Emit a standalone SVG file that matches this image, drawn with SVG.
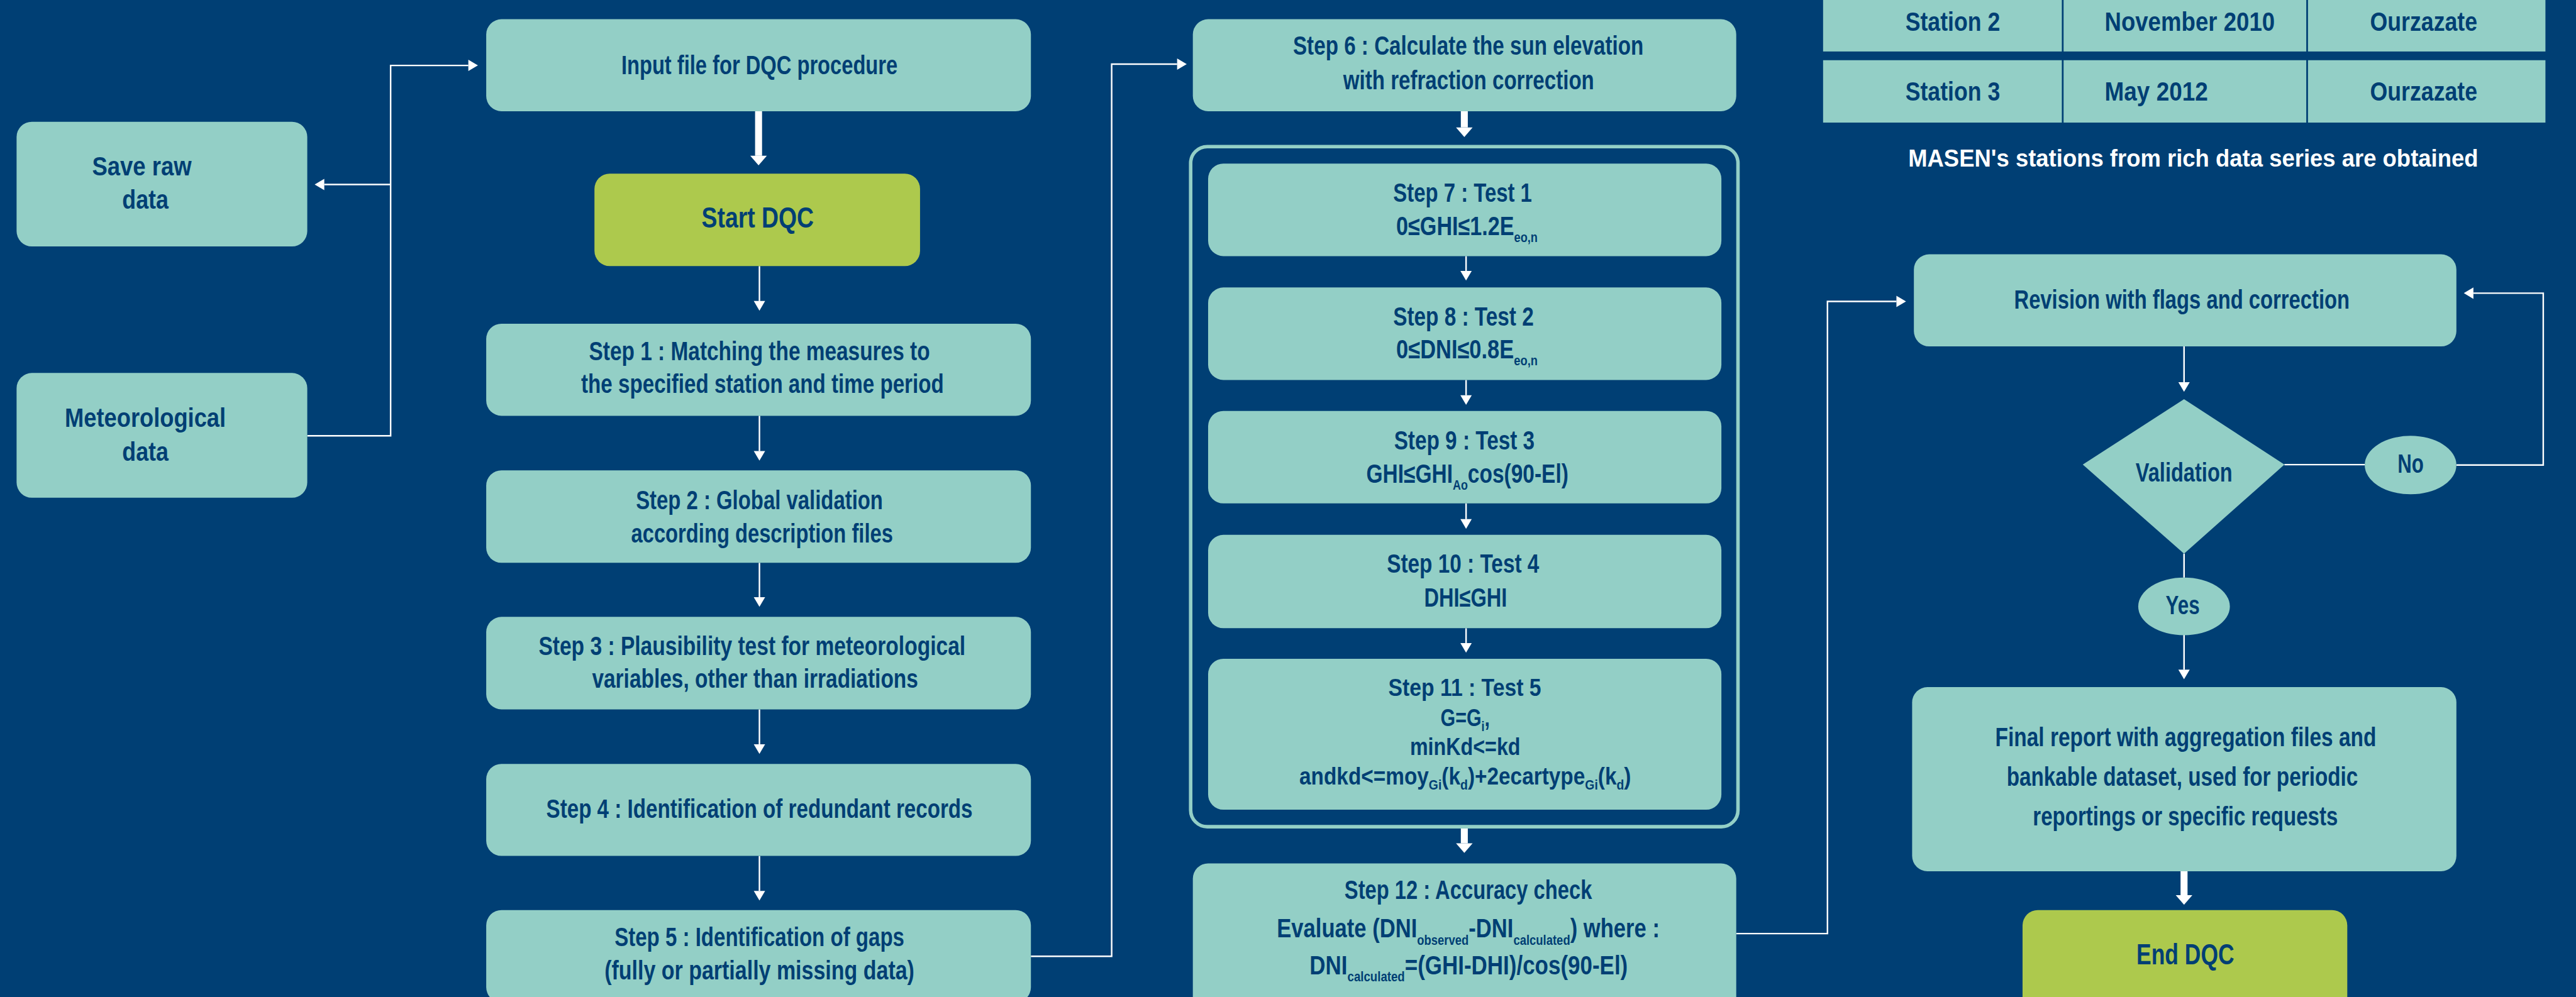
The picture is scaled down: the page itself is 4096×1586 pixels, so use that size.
<svg xmlns="http://www.w3.org/2000/svg" width="4096" height="1586" viewBox="0 0 4096 1586">
<style>
.bg{fill:#003F74}
.box{fill:#93CFC6}
.green{fill:#ADC94D}
.frame{fill:none;stroke:#93CFC6;stroke-width:8}
.t{font-family:"Liberation Sans Narrow","Liberation Sans",Arial,sans-serif;font-weight:bold;font-size:60px;fill:#003F74;text-anchor:middle}
.big{font-size:66px}
.tb{font-size:62px}
.sm{font-size:55px}
.st{text-anchor:start}
.w{fill:#FFFFFF;font-size:57px}
.sub{font-size:32px}
.ln{fill:none;stroke:#FFFFFF;stroke-width:3.5}
.thick{fill:none;stroke:#FFFFFF;stroke-width:16}
</style>
<defs>
<marker id="ah" markerUnits="userSpaceOnUse" markerWidth="24" markerHeight="28" refX="0" refY="13" orient="auto" overflow="visible"><path d="M0,0 L22,13 L0,26 Z" fill="#FFFFFF"/></marker>
<marker id="ahT" markerUnits="userSpaceOnUse" markerWidth="24" markerHeight="40" refX="0" refY="19" orient="auto" overflow="visible"><path d="M0,0 L22,19 L0,38 Z" fill="#FFFFFF"/></marker>
</defs>
<rect class="bg" x="0" y="0" width="4096" height="1586"/>
<g transform="scale(0.693998)">

<g id="connectors">
<path class="ln" d="M704,999 H895 V150 H1073" marker-end="url(#ah)"/>
<path class="ln" d="M895,423 H743" marker-end="url(#ah)"/>
<path class="thick" d="M1738,255 V357" marker-end="url(#ahT)"/>
<path class="ln" d="M1740,610 V690" marker-end="url(#ah)"/>
<path class="ln" d="M1740,953 V1034" marker-end="url(#ah)"/>
<path class="ln" d="M1740,1290 V1369" marker-end="url(#ah)"/>
<path class="ln" d="M1740,1626 V1706" marker-end="url(#ah)"/>
<path class="ln" d="M1740,1962 V2042" marker-end="url(#ah)"/>
<path class="ln" d="M2362,2192 H2547 V147 H2697" marker-end="url(#ah)"/>
<path class="thick" d="M3355,255 V292" marker-end="url(#ahT)"/>
<path class="ln" d="M3359,587 V621" marker-end="url(#ah)"/>
<path class="ln" d="M3359,871 V906" marker-end="url(#ah)"/>
<path class="ln" d="M3359,1154 V1190" marker-end="url(#ah)"/>
<path class="ln" d="M3359,1440 V1474" marker-end="url(#ah)"/>
<path class="thick" d="M3355,1899 V1933" marker-end="url(#ahT)"/>
<path class="ln" d="M3978,2140 H4187 V691 H4345" marker-end="url(#ah)"/>
<path class="ln" d="M5004,794 V876" marker-end="url(#ah)"/>
<path class="ln" d="M5234,1065 H5418"/>
<path class="ln" d="M5628,1066 H5827 V672 H5667" marker-end="url(#ah)"/>
<path class="ln" d="M5004,1269 V1324"/>
<path class="ln" d="M5004,1455 V1535" marker-end="url(#ah)"/>
<path class="thick" d="M5004,1997 V2052" marker-end="url(#ahT)"/>
</g>

<g id="save-raw">
<rect class="box" x="38" y="279" width="666" height="286" rx="35"/>
<text class="t" x="325" y="402" textLength="228" lengthAdjust="spacingAndGlyphs">Save raw</text>
<text class="t" x="333" y="478" textLength="106" lengthAdjust="spacingAndGlyphs">data</text>
</g>
<g id="meteo">
<rect class="box" x="38" y="855" width="666" height="286" rx="35"/>
<text class="t" x="333" y="979" textLength="369" lengthAdjust="spacingAndGlyphs">Meteorological</text>
<text class="t" x="333" y="1056" textLength="106" lengthAdjust="spacingAndGlyphs">data</text>
</g>
<g id="input">
<rect class="box" x="1114" y="44" width="1248" height="211" rx="35"/>
<text class="t" x="1740" y="170" textLength="633" lengthAdjust="spacingAndGlyphs">Input file for DQC procedure</text>
</g>
<g id="start">
<rect class="green" x="1362" y="398" width="746" height="212" rx="35"/>
<text class="t big" x="1736" y="522" textLength="257" lengthAdjust="spacingAndGlyphs">Start DQC</text>
</g>
<g id="step1">
<rect class="box" x="1114" y="742" width="1248" height="211" rx="35"/>
<text class="t" x="1740" y="825" textLength="781" lengthAdjust="spacingAndGlyphs">Step 1 : Matching the measures to</text>
<text class="t" x="1747" y="901" textLength="831" lengthAdjust="spacingAndGlyphs">the specified station and time period</text>
</g>
<g id="step2">
<rect class="box" x="1114" y="1078" width="1248" height="212" rx="35"/>
<text class="t" x="1740" y="1167" textLength="566" lengthAdjust="spacingAndGlyphs">Step 2 : Global validation</text>
<text class="t" x="1746" y="1243" textLength="600" lengthAdjust="spacingAndGlyphs">according description files</text>
</g>
<g id="step3">
<rect class="box" x="1114" y="1414" width="1248" height="212" rx="35"/>
<text class="t" x="1723" y="1501" textLength="978" lengthAdjust="spacingAndGlyphs">Step 3 : Plausibility test for meteorological</text>
<text class="t" x="1730" y="1576" textLength="747" lengthAdjust="spacingAndGlyphs">variables, other than irradiations</text>
</g>
<g id="step4">
<rect class="box" x="1114" y="1751" width="1248" height="211" rx="35"/>
<text class="t" x="1740" y="1874" textLength="977" lengthAdjust="spacingAndGlyphs">Step 4 : Identification of redundant records</text>
</g>
<g id="step5">
<rect class="box" x="1114" y="2086" width="1248" height="212" rx="35"/>
<text class="t" x="1740" y="2168" textLength="664" lengthAdjust="spacingAndGlyphs">Step 5 : Identification of gaps</text>
<text class="t" x="1740" y="2245" textLength="710" lengthAdjust="spacingAndGlyphs">(fully or partially missing data)</text>
</g>
<g id="step6">
<rect class="box" x="2733" y="44" width="1245" height="211" rx="35"/>
<text class="t" x="3364" y="126" textLength="803" lengthAdjust="spacingAndGlyphs">Step 6 : Calculate the sun elevation</text>
<text class="t" x="3365" y="204" textLength="575" lengthAdjust="spacingAndGlyphs">with refraction correction</text>
</g>
<g id="tests-frame">
<rect class="frame" x="2728" y="336" width="1254" height="1559" rx="38"/>
</g>
<g id="step7">
<rect class="box" x="2768" y="375" width="1176" height="212" rx="35"/>
<text class="t" x="3351" y="462" textLength="318" lengthAdjust="spacingAndGlyphs">Step 7 : Test 1</text>
<text class="t" x="3361" y="539" textLength="324" lengthAdjust="spacingAndGlyphs">0≤GHI≤1.2E<tspan class="sub" dy="16">eo,n</tspan></text>
</g>
<g id="step8">
<rect class="box" x="2768" y="659" width="1176" height="212" rx="35"/>
<text class="t" x="3353" y="746" textLength="322" lengthAdjust="spacingAndGlyphs">Step 8 : Test 2</text>
<text class="t" x="3361" y="821" textLength="324" lengthAdjust="spacingAndGlyphs">0≤DNI≤0.8E<tspan class="sub" dy="16">eo,n</tspan></text>
</g>
<g id="step9">
<rect class="box" x="2768" y="942" width="1176" height="212" rx="35"/>
<text class="t" x="3355" y="1030" textLength="322" lengthAdjust="spacingAndGlyphs">Step 9 : Test 3</text>
<text class="t" x="3362" y="1106" textLength="463" lengthAdjust="spacingAndGlyphs">GHI≤GHI<tspan class="sub" dy="16">Ao</tspan><tspan dy="-16">cos(90-El)</tspan></text>
</g>
<g id="step10">
<rect class="box" x="2768" y="1226" width="1176" height="214" rx="35"/>
<text class="t" x="3352" y="1313" textLength="349" lengthAdjust="spacingAndGlyphs">Step 10 : Test 4</text>
<text class="t" x="3358" y="1390" textLength="190" lengthAdjust="spacingAndGlyphs">DHI≤GHI</text>
</g>
<g id="step11">
<rect class="box" x="2768" y="1510" width="1176" height="346" rx="35"/>
<text class="t sm" x="3356" y="1595" textLength="350" lengthAdjust="spacingAndGlyphs">Step 11 : Test 5</text>
<text class="t sm" x="3357" y="1664" textLength="113" lengthAdjust="spacingAndGlyphs">G=G<tspan class="sub" dy="12">i</tspan><tspan dy="-12">,</tspan></text>
<text class="t sm" x="3357" y="1730" textLength="253" lengthAdjust="spacingAndGlyphs">minKd&lt;=kd</text>
<text class="t sm" x="3357" y="1798" textLength="760" lengthAdjust="spacingAndGlyphs">andkd&lt;=moy<tspan class="sub" dy="12">Gi</tspan><tspan dy="-12">(k</tspan><tspan class="sub" dy="12">d</tspan><tspan dy="-12">)+2ecartype</tspan><tspan class="sub" dy="12">Gi</tspan><tspan dy="-12">(k</tspan><tspan class="sub" dy="12">d</tspan><tspan dy="-12">)</tspan></text>
</g>
<g id="step12">
<rect class="box" x="2733" y="1979" width="1245" height="340" rx="35"/>
<text class="t" x="3364" y="2061" textLength="567" lengthAdjust="spacingAndGlyphs">Step 12 : Accuracy check</text>
<text class="t" x="3364" y="2149" textLength="877" lengthAdjust="spacingAndGlyphs">Evaluate (DNI<tspan class="sub" dy="16">observed</tspan><tspan dy="-16">-DNI</tspan><tspan class="sub" dy="16">calculated</tspan><tspan dy="-16">) where :</tspan></text>
<text class="t" x="3365" y="2234" textLength="729" lengthAdjust="spacingAndGlyphs">DNI<tspan class="sub" dy="16">calculated</tspan><tspan dy="-16">=(GHI-DHI)/cos(90-El)</tspan></text>
</g>

<g id="stations-table">
<rect class="box" x="4177" y="-30" width="547" height="148"/>
<rect class="box" x="4728" y="-30" width="556" height="148"/>
<rect class="box" x="5288" y="-30" width="544" height="148"/>
<rect class="box" x="4177" y="138" width="547" height="143"/>
<rect class="box" x="4728" y="138" width="556" height="143"/>
<rect class="box" x="5288" y="138" width="544" height="143"/>
<text class="t tb" x="4474" y="70" textLength="217" lengthAdjust="spacingAndGlyphs">Station 2</text>
<text class="t tb st" x="4822" y="70" textLength="390" lengthAdjust="spacingAndGlyphs">November 2010</text>
<text class="t tb" x="5553" y="70" textLength="246" lengthAdjust="spacingAndGlyphs">Ourzazate</text>
<text class="t tb" x="4474" y="231" textLength="217" lengthAdjust="spacingAndGlyphs">Station 3</text>
<text class="t tb st" x="4822" y="231" textLength="237" lengthAdjust="spacingAndGlyphs">May 2012</text>
<text class="t tb" x="5553" y="231" textLength="246" lengthAdjust="spacingAndGlyphs">Ourzazate</text>
<text class="t w" x="5025" y="382" textLength="1306" lengthAdjust="spacingAndGlyphs">MASEN's stations from rich data series are obtained</text>
</g>

<g id="revision">
<rect class="box" x="4385" y="583" width="1243" height="211" rx="35"/>
<text class="t" x="4999" y="708" textLength="769" lengthAdjust="spacingAndGlyphs">Revision with flags and correction</text>
</g>
<g id="validation">
<polygon class="box" points="5004,915 5234,1065 5004,1269 4772,1065"/>
<text class="t" x="5004" y="1104" textLength="222" lengthAdjust="spacingAndGlyphs">Validation</text>
</g>
<g id="no">
<ellipse class="box" cx="5523" cy="1066" rx="105" ry="67"/>
<text class="t" x="5523" y="1084" textLength="60" lengthAdjust="spacingAndGlyphs">No</text>
</g>
<g id="yes">
<ellipse class="box" cx="5004" cy="1390" rx="105" ry="66"/>
<text class="t" x="5001" y="1408" textLength="78" lengthAdjust="spacingAndGlyphs">Yes</text>
</g>
<g id="final-report">
<rect class="box" x="4381" y="1575" width="1247" height="422" rx="35"/>
<text class="t" x="5008" y="1711" textLength="873" lengthAdjust="spacingAndGlyphs">Final report with aggregation files and</text>
<text class="t" x="5000" y="1801" textLength="805" lengthAdjust="spacingAndGlyphs">bankable dataset, used for periodic</text>
<text class="t" x="5007" y="1892" textLength="699" lengthAdjust="spacingAndGlyphs">reportings or specific requests</text>
</g>
<g id="end">
<rect class="green" x="4634" y="2086" width="744" height="240" rx="35"/>
<text class="t big" x="5007" y="2210" textLength="224" lengthAdjust="spacingAndGlyphs">End DQC</text>
</g>
</g>
</svg>
